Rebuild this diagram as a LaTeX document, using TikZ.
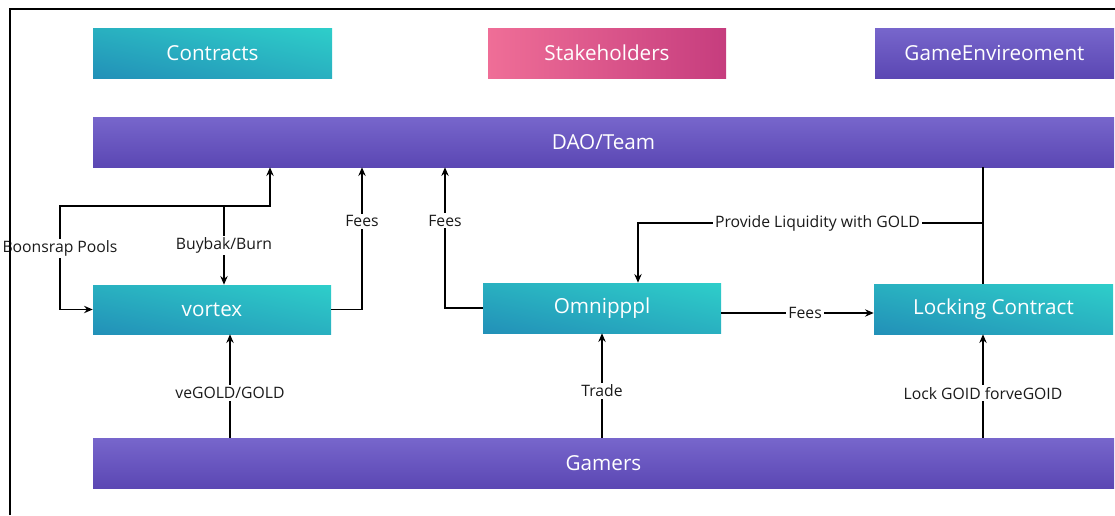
\documentclass[tikz,border=0pt]{standalone}
\usepackage{fontspec}
\setmainfont{Open Sans}
\usepackage{xcolor}
\definecolor{tealdark}{HTML}{2290B8}
\definecolor{teallight}{HTML}{2ECECA}
\definecolor{tealmid}{HTML}{29B0C0}
\definecolor{pinklight}{HTML}{EF6E97}
\definecolor{pinkdark}{HTML}{C63D7E}
\definecolor{purpletop}{HTML}{7766CC}
\definecolor{purplebot}{HTML}{5B47B3}
\definecolor{labeltext}{HTML}{1A1A1A}
\usetikzlibrary{arrows.meta}
\usetikzlibrary{shadings}
\usetikzlibrary{positioning}

\begin{document}
\begin{tikzpicture}[x=0.75pt, y=-0.75pt,
  box/.style={inner sep=0pt, text=white, font=\fontsize{15.5}{18}\selectfont,
    minimum height=37.5pt},
  tealbox/.style={box, shading=bilinear interpolation, lower left=tealdark,
    upper right=teallight, upper left=tealmid, lower right=tealmid},
  pinkbox/.style={box, left color=pinklight, right color=pinkdark},
  purplebox/.style={box, top color=purpletop, bottom color=purplebot},
  lbl/.style={fill=white, inner sep=1.5pt, text=labeltext,
    font=\fontsize{11.8}{14}\selectfont},
  arr/.style={-{Stealth[length=6.5pt,width=5.5pt]}, line width=1pt},
  link/.style={line width=1pt}]

\useasboundingbox (0,0) rectangle (1115,515);

% top row
\node[tealbox, minimum width=179.25pt] (contracts) at (212.5,53) {Contracts};
\node[pinkbox, minimum width=178.5pt] (stake) at (607,53) {Stakeholders};
\node[purplebox, minimum width=179.25pt] (gameenv) at (994.5,53) {GameEnvireoment};

% DAO
\node[purplebox, minimum width=765.75pt] (dao) at (603.5,142) {DAO/Team};

% middle row
\node[tealbox, minimum width=178.5pt, minimum height=36.75pt] (vortex) at (212,309.5) {vortex};
\node[tealbox, minimum width=178.5pt] (omni) at (602,308) {Omnipppl};
\node[tealbox, minimum width=179.25pt] (lock) at (993.5,309) {Locking Contract};

% Gamers
\node[purplebox, minimum width=765.75pt] (gamers) at (603.5,463) {Gamers};

% helper coordinates
\coordinate (bb) at (224,206);
\coordinate (bbup) at (270,206);
\coordinate (bp) at (60,206);
\coordinate (f1) at (362,0);
\coordinate (f2) at (445,0);
\coordinate (lk) at (983,0);
\coordinate (pl) at (983,223);
\coordinate (om) at (638,0);
\coordinate (fy) at (0,313);
\coordinate (g1) at (230,0);
\coordinate (g2) at (602,0);

% vortex links
\draw[arr] (bb) -- (bbup) -- (bbup |- dao.south);
\draw[arr] (bb) -- node[lbl]{Buybak/Burn} (bb |- vortex.north);
\draw[arr] (bb) -- (bp) -- node[lbl, pos=0.41]{Boonsrap Pools} (bp |- vortex.west) -- (vortex.west);
\draw[arr] (vortex.east) -| node[lbl, pos=0.81]{Fees} (dao.south -| f1);

% Omnipppl links
\draw[arr] (omni.west) -| node[lbl, pos=0.81]{Fees} (dao.south -| f2);
\draw[link] (lock.north -| lk) -- (lk |- dao.south);
\draw[arr] (pl) -| node[lbl, pos=0.24]{Provide Liquidity with GOLD} (omni.north -| om);
\draw[arr] (omni.east |- fy) -- node[lbl, pos=0.55]{Fees} (lock.west |- fy);

% Gamers links
\draw[arr] (gamers.north -| g1) -- node[lbl, pos=0.43]{veGOLD/GOLD} (vortex.south -| g1);
\draw[arr] (gamers.north -| g2) -- node[lbl, pos=0.45]{Trade} (omni.south -| g2);
\draw[arr] (gamers.north -| lk) -- node[lbl, pos=0.43]{Lock GOID forveGOID} (lock.south -| lk);

% frame
\draw[line width=1.5pt] (10,515) -- (10,9) -- (1115,9);

\end{tikzpicture}
\end{document}
